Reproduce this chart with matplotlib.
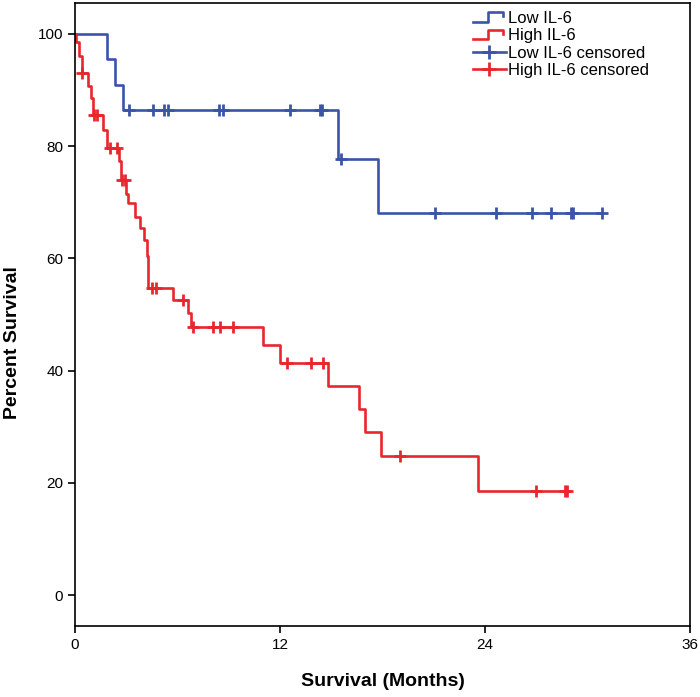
import matplotlib
matplotlib.use("Agg")
import matplotlib.pyplot as plt
from matplotlib.lines import Line2D
from matplotlib.legend_handler import HandlerBase
import numpy as np

plt.rcParams['font.family'] = ['Liberation Sans', 'DejaVu Sans']

# Low IL-6 : step times (months) and survival (%) after each step
low_times = [0, 1.87, 2.34, 2.81, 15.4, 17.74]
low_surv = [100, 95.5, 90.9, 86.4, 77.7, 68.0]
low_end = 30.85
low_censor = [3.16, 4.57, 5.2, 5.44, 8.43, 8.67, 12.6, 14.34, 14.46, 15.57,
              21.08, 24.65, 26.76, 27.87, 29.04, 29.16, 30.85]

# High IL-6
high_times = [0, 0.05, 0.25, 0.4, 0.75, 0.95, 1.05, 1.65, 1.85, 2.6, 2.7,
              3.0, 3.1, 3.5, 3.8, 4.05, 4.2, 4.25, 4.3, 5.75, 6.6, 6.8,
              11.0, 12.0, 14.8, 16.6, 17.0, 17.9, 23.6]
high_surv = [100, 98.6, 96.0, 93.0, 90.8, 88.5, 85.6, 82.9, 79.7, 77.3, 74.0,
             71.5, 69.8, 67.4, 65.4, 63.3, 60.5, 57.5, 54.8, 52.5, 50.2, 47.8,
             44.6, 41.4, 37.3, 33.2, 29.1, 24.8, 18.6]
high_end = 28.8
high_censor = [0.42, 1.1, 1.3, 2.05, 2.45, 2.75, 2.95, 4.5, 4.72, 6.3, 6.9,
               8.1, 8.5, 9.25, 12.4, 13.8, 14.5, 19.0, 27.0, 28.7, 28.8]

blue = '#3b54a8'
red = '#e8262e'

fig = plt.figure(figsize=(7, 6.97), dpi=100)
ax = fig.add_axes([75/700, 1 - 626/697, 615/700, 623/697])


def step_xy(times, surv, end):
    x = list(times) + [end]
    y = list(surv) + [surv[-1]]
    return x, y


def censor_y(times, surv, ct):
    idx = np.searchsorted(times, ct, side='right') - 1
    return np.asarray(surv)[idx]


x, y = step_xy(low_times, low_surv, low_end)
ax.step(x, y, where='post', color=blue, lw=1.9)
x, y = step_xy(high_times, high_surv, high_end)
ax.step(x, y, where='post', color=red, lw=1.9)

ax.plot(low_censor, censor_y(low_times, low_surv, low_censor), '+',
        color=blue, ms=8, mew=2)
ax.plot(high_censor, censor_y(high_times, high_surv, high_censor), '+',
        color=red, ms=8, mew=2)

ax.set_xlim(0, 36)
ax.set_ylim(-5.5, 105.5)
ax.set_xticks([0, 12, 24, 36])
ax.set_yticks([0, 20, 40, 60, 80, 100])
ax.tick_params(labelsize=11, length=5, width=1.2)
ax.set_xlabel('Survival (Months)', fontsize=14, fontweight='bold')
ax.set_ylabel('Percent Survival', fontsize=14, fontweight='bold')
ax.xaxis.set_label_coords(0.5, -0.075)
ax.yaxis.set_label_coords(-0.087, 0.455)
for s in ax.spines.values():
    s.set_linewidth(1.2)


# step-shaped legend icons, like SPSS
class StepHandler(HandlerBase):
    def create_artists(self, legend, orig_handle, xdescent, ydescent,
                       width, height, fontsize, trans):
        xs = np.array([0, 0.45, 0.45, 0.9, 0.9]) * width - xdescent
        ys = np.array([0.1, 0.1, 0.9, 0.9, 0.55]) * height - ydescent
        ln = Line2D(xs, ys, color=orig_handle.get_color(), lw=1.9,
                    transform=trans)
        return [ln]


h_low = Line2D([], [], color=blue)
h_high = Line2D([], [], color=red)
c_low = Line2D([], [], color=blue, lw=1.9, marker='+', ms=10, mew=2)
c_high = Line2D([], [], color=red, lw=1.9, marker='+', ms=10, mew=2)

ax.legend([h_low, h_high, c_low, c_high],
          ['Low IL-6', 'High IL-6', 'Low IL-6 censored', 'High IL-6 censored'],
          handler_map={h_low: StepHandler(), h_high: StepHandler()},
          loc='upper left', bbox_to_anchor=(466/700, 1 - 4/697),
          bbox_transform=fig.transFigure, frameon=False, fontsize=12,
          handlelength=2.0, handletextpad=0.1, labelspacing=0.15,
          borderaxespad=0)

fig.savefig('out.png', dpi=100)
